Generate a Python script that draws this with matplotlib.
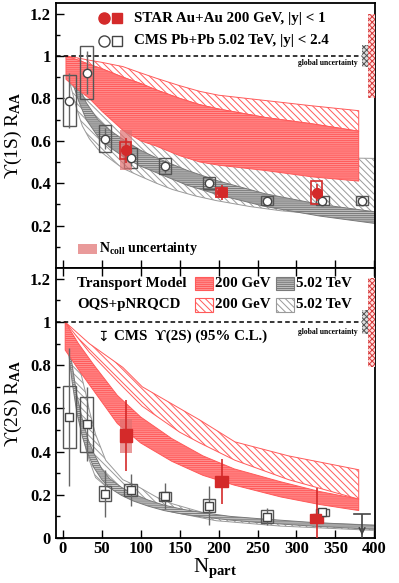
import matplotlib
matplotlib.use('Agg')
import matplotlib.pyplot as plt
from matplotlib.patches import Rectangle
import matplotlib.ticker as ticker

plt.rcParams['font.family'] = ['Liberation Serif', 'DejaVu Serif']
plt.rcParams['font.weight'] = 'bold'
plt.rcParams['mathtext.fontset'] = 'custom'
plt.rcParams['mathtext.rm'] = 'Liberation Serif:bold'
plt.rcParams['mathtext.it'] = 'Liberation Serif:bold'
plt.rcParams['mathtext.bf'] = 'Liberation Serif:bold'
plt.rcParams['hatch.linewidth'] = 0.7

# ---- data: CMS Pb+Pb 5.02 TeV ----
cms_npart = [8.5, 30.6, 53.9, 86.9, 130.9, 187.9, 262.3, 333.3, 384.3]
cms1s = [0.79, 0.922, 0.61, 0.52, 0.48, 0.40, 0.318, 0.318, 0.318]
cms1s_stat = [0.13, 0.10, 0.05, 0.04, 0.03, 0.02, 0.015, 0.015, 0.015]
cms1s_sys = [0.12, 0.124, 0.064, 0.047, 0.037, 0.028, 0.022, 0.022, 0.022]

cms2s_npart = [8.5, 30.6, 53.9, 86.9, 130.9, 187.9, 262.3, 333.3]
cms2s = [0.561, 0.527, 0.205, 0.223, 0.193, 0.15, 0.099, 0.119]
cms2s_stat = [0.32, 0.17, 0.11, 0.075, 0.06, 0.09, 0.04, 0.02]
cms2s_sys = [0.145, 0.128, 0.035, 0.027, 0.02, 0.03, 0.03, 0.017]
cms2s_limit_npart = 384.3
cms2s_limit = 0.11

# ---- data: STAR Au+Au 200 GeV ----
star_npart = [81, 204, 326]
star1s = [0.555, 0.357, 0.355]
star1s_stat = [0.06, 0.035, 0.04]
star1s_sys = [0.04, 0.02, 0.055]
star1s_ncoll = [0.095, 0.025, 0.01]
star2s = [0.473, 0.262, 0.091]
star2s_stat = [0.165, 0.106, 0.142]
star2s_sys = [0.03, 0.025, 0.022]
star2s_ncoll = [0.08, 0.02, 0.01]

# ---- model bands, 1S ----
tm200_1s_x = [4, 20, 34, 50, 77, 100, 120, 150, 176, 200, 260, 320, 380]
tm200_1s_hi = [1.0, 0.98, 0.96, 0.94, 0.90, 0.87, 0.84, 0.80, 0.77, 0.75, 0.71, 0.68, 0.645]
tm200_1s_lo = [0.89, 0.84, 0.80, 0.74, 0.65, 0.60, 0.575, 0.53, 0.50, 0.485, 0.46, 0.43, 0.41]
oqs200_1s_hi = [1.0, 0.99, 0.98, 0.97, 0.95, 0.92, 0.895, 0.86, 0.833, 0.815, 0.79, 0.765, 0.742]

tm502_1s_x = [4, 12, 20, 30, 45, 60, 80, 100, 120, 160, 200, 260, 330, 401]
tm502_1s_hi = [1.0, 0.93, 0.86, 0.78, 0.70, 0.65, 0.60, 0.555, 0.52, 0.46, 0.41, 0.35, 0.30, 0.265]
tm502_1s_lo = [1.0, 0.88, 0.79, 0.70, 0.62, 0.57, 0.52, 0.48, 0.45, 0.39, 0.345, 0.29, 0.245, 0.21]

oqs502_1s_x = [4, 10, 17, 25, 34, 45, 55, 77, 98, 120, 141, 170, 197, 240, 280, 340, 401]
oqs502_1s_hi = [1.0, 0.98, 0.95, 0.90, 0.85, 0.79, 0.75, 0.68, 0.63, 0.60, 0.58, 0.555, 0.54, 0.53, 0.525, 0.52, 0.517]
oqs502_1s_lo = [1.0, 0.86, 0.76, 0.67, 0.61, 0.56, 0.53, 0.47, 0.435, 0.40, 0.37, 0.34, 0.318, 0.29, 0.27, 0.25, 0.232]

# ---- model bands, 2S ----
tm200_2s_x = [3, 20, 40, 70, 100, 140, 180, 220, 280, 330, 380]
tm200_2s_hi = [1.0, 0.90, 0.80, 0.66, 0.56, 0.46, 0.38, 0.32, 0.26, 0.215, 0.18]
tm200_2s_lo = [0.87, 0.78, 0.68, 0.53, 0.44, 0.355, 0.29, 0.245, 0.19, 0.155, 0.127]

oqs200_2s_x = [3, 34, 77, 102, 150, 176, 221, 290, 380]
oqs200_2s_hi = [1.0, 0.90, 0.79, 0.70, 0.60, 0.546, 0.445, 0.38, 0.316]
oqs200_2s_lo = [1.0, 0.86, 0.70, 0.61, 0.49, 0.44, 0.36, 0.27, 0.18]

tm502_2s_x = [3, 8, 12, 18, 25, 32, 40, 50, 60, 75, 90, 110, 130, 155, 180, 215, 250, 320, 401]
tm502_2s_hi = [1.0, 0.90, 0.80, 0.66, 0.55, 0.46, 0.39, 0.32, 0.275, 0.235, 0.205, 0.175, 0.152, 0.132, 0.117, 0.10, 0.09, 0.072, 0.058]
tm502_2s_lo = [1.0, 0.84, 0.72, 0.58, 0.47, 0.39, 0.325, 0.27, 0.232, 0.198, 0.172, 0.147, 0.127, 0.11, 0.097, 0.083, 0.072, 0.055, 0.04]

oqs502_2s_x = [3, 12, 17, 24, 30, 34, 42, 55, 77, 98, 120, 141, 197, 280, 401]
oqs502_2s_hi = [1.0, 0.92, 0.86, 0.75, 0.66, 0.59, 0.48, 0.36, 0.27, 0.235, 0.19, 0.158, 0.10, 0.075, 0.06]
oqs502_2s_lo = [1.0, 0.78, 0.64, 0.50, 0.405, 0.36, 0.28, 0.24, 0.205, 0.17, 0.142, 0.12, 0.08, 0.055, 0.035]

# global uncertainties: (low, high)
glob_star_1s = (0.80, 1.20)
glob_cms_1s = (0.95, 1.05)
glob_star_2s = (0.793, 1.205)
glob_cms_2s = (0.944, 1.054)

RED = '#ff5a5a'
DRED = '#d42a2a'
PINK = '#e07070'
REDFACE = '#ff9090'
GRAY = '#7a7a7a'
LGRAY = '#9a9a9a'
FS = 10.8

fig = plt.figure(figsize=(3.99, 5.83), dpi=100)
ax1 = fig.add_axes([0.140, 0.5403, 0.800, 0.4546])
ax2 = fig.add_axes([0.140, 0.0772, 0.800, 0.4631])


def band_dense(ax, x, lo, hi, col, face):
    ax.fill_between(x, lo, hi, facecolor=face, edgecolor=col, hatch='--------',
                    linewidth=0.7, zorder=2)


def band_diag(ax, x, lo, hi, col):
    ax.fill_between(x, lo, hi, facecolor='none', edgecolor=col, hatch='\\\\\\\\\\',
                    linewidth=0.7, zorder=2)


def boxes(ax, xs, ys, halfs, w, **kw):
    for x, y, h in zip(xs, ys, halfs):
        ax.add_patch(Rectangle((x - w / 2, y - h), w, 2 * h, **kw))


def globbox(ax, star, cms):
    ax.add_patch(Rectangle((391.5, star[0]), 10, star[1] - star[0], facecolor='#ffdede',
                           edgecolor='#d63a3a', hatch='xxxxxx', linewidth=0, zorder=3))
    ax.add_patch(Rectangle((384, cms[0]), 7.5, cms[1] - cms[0], facecolor='#dddddd',
                           edgecolor='#555555', hatch='xxxxxx', linewidth=0, zorder=3))


# ---------------- top panel: 1S ----------------
band_diag(ax1, oqs502_1s_x, oqs502_1s_lo, oqs502_1s_hi, LGRAY)
band_dense(ax1, tm502_1s_x, tm502_1s_lo, tm502_1s_hi, GRAY, '#bdbdbd')
band_diag(ax1, tm200_1s_x, tm200_1s_hi, oqs200_1s_hi, RED)
band_dense(ax1, tm200_1s_x, tm200_1s_lo, tm200_1s_hi, RED, REDFACE)

boxes(ax1, cms_npart, cms1s, cms1s_sys, 16, facecolor='none', edgecolor='#555555', lw=1, zorder=4)
ax1.errorbar(cms_npart, cms1s, yerr=cms1s_stat, fmt='o', mfc='white', mec='#444444',
             ms=6, mew=1, ecolor='#666666', elinewidth=1, capsize=0, zorder=5)

boxes(ax1, star_npart, star1s, star1s_ncoll, 16, facecolor=PINK, alpha=0.7, lw=0, zorder=4)
boxes(ax1, star_npart, star1s, star1s_sys, 14, facecolor='none', edgecolor=DRED, lw=1.2, zorder=5)
ax1.errorbar(star_npart, star1s, yerr=star1s_stat, fmt='o', color=DRED, ms=7,
             elinewidth=1.2, capsize=0, zorder=6)

ax1.axhline(1.0, color='black', ls=(0, (3, 2)), lw=1.1, zorder=3)
globbox(ax1, glob_star_1s, glob_cms_1s)
ax1.text(379, 0.967, 'global uncertainty', fontsize=5.5, ha='right', va='center')

# legend top
ax1.plot([52.7], [1.178], 'o', color=DRED, ms=8)
ax1.plot([69.5], [1.178], 's', color=DRED, ms=7.5)
ax1.plot([52.7], [1.072], 'o', mfc='white', mec='#444444', ms=8, mew=1)
ax1.plot([69.5], [1.072], 's', mfc='white', mec='#444444', ms=7.5, mew=1)
ax1.text(92, 1.178, 'STAR Au+Au 200 GeV, |y| < 1', fontsize=FS, va='center')
ax1.text(92, 1.072, 'CMS Pb+Pb 5.02 TeV, |y| < 2.4', fontsize=FS, va='center')
ax1.add_patch(Rectangle((19.5, 0.068), 24, 0.047, facecolor=PINK, alpha=0.7, lw=0))
ax1.text(46, 0.09, r'N$_{\mathrm{coll}}$ uncertainty', fontsize=10, va='center')

# ---------------- bottom panel: 2S ----------------
band_diag(ax2, oqs502_2s_x, oqs502_2s_lo, oqs502_2s_hi, LGRAY)
band_dense(ax2, tm502_2s_x, tm502_2s_lo, tm502_2s_hi, GRAY, '#cccccc')
band_diag(ax2, oqs200_2s_x, oqs200_2s_lo, oqs200_2s_hi, RED)
band_dense(ax2, tm200_2s_x, tm200_2s_lo, tm200_2s_hi, RED, REDFACE)

boxes(ax2, cms2s_npart, cms2s, cms2s_sys, 16, facecolor='none', edgecolor='#555555', lw=1, zorder=4)
ax2.errorbar(cms2s_npart, cms2s, yerr=cms2s_stat, fmt='s', mfc='white', mec='#444444',
             ms=6, mew=1, ecolor='#666666', elinewidth=1, capsize=0, zorder=5)
ax2.errorbar([cms2s_limit_npart], [cms2s_limit], yerr=[[cms2s_limit], [0]], fmt='none',
             ecolor='#444444', elinewidth=1.2, capsize=0, zorder=5)
ax2.plot([cms2s_limit_npart - 10, cms2s_limit_npart + 10], [cms2s_limit, cms2s_limit],
         color='#444444', lw=1.2, zorder=5)
ax2.annotate('', xy=(cms2s_limit_npart, 0.0), xytext=(cms2s_limit_npart, 0.04),
             arrowprops=dict(arrowstyle='->', color='#444444', lw=1.2), zorder=5)

boxes(ax2, star_npart, star2s, star2s_ncoll, 16, facecolor=PINK, alpha=0.7, lw=0, zorder=4)
boxes(ax2, star_npart, star2s, star2s_sys, 16, facecolor=DRED, edgecolor=DRED, lw=1, zorder=5)
ax2.errorbar(star_npart, star2s, yerr=star2s_stat, fmt='s', color=DRED, ms=6,
             elinewidth=1.2, capsize=0, zorder=6)

ax2.axhline(1.0, color='black', ls=(0, (3, 2)), lw=1.1, zorder=3)
globbox(ax2, glob_star_2s, glob_cms_2s)
ax2.text(379, 0.956, 'global uncertainty', fontsize=5.5, ha='right', va='center')

# legend bottom
ax2.text(18, 1.178, 'Transport Model', fontsize=FS, va='center')
ax2.text(18, 1.08, 'OQS+pNRQCD', fontsize=FS, va='center')
ax2.add_patch(Rectangle((170, 1.146), 23, 0.064, facecolor=REDFACE, edgecolor=RED,
                        hatch='--------', lw=0.8))
ax2.add_patch(Rectangle((170, 1.048), 23, 0.064, facecolor='none', edgecolor=RED,
                        hatch='\\\\\\\\\\', lw=0.8))
ax2.add_patch(Rectangle((274, 1.146), 23, 0.064, facecolor='#bdbdbd', edgecolor=GRAY,
                        hatch='--------', lw=0.8))
ax2.add_patch(Rectangle((274, 1.048), 23, 0.064, facecolor='none', edgecolor=LGRAY,
                        hatch='\\\\\\\\\\', lw=0.8))
ax2.text(196, 1.178, '200 GeV', fontsize=FS, va='center')
ax2.text(196, 1.08, '200 GeV', fontsize=FS, va='center')
ax2.text(300, 1.178, '5.02 TeV', fontsize=FS, va='center')
ax2.text(300, 1.08, '5.02 TeV', fontsize=FS, va='center')
ax2.text(44, 0.933, '\u21a7', fontsize=10, va='center', family='DejaVu Sans', weight='normal')
ax2.text(66, 0.933, 'CMS  \u03d2(2S) (95% C.L.)', fontsize=FS, va='center')

# ---------------- axes cosmetics ----------------
fmt = ticker.FuncFormatter(lambda v, p: '%g' % round(v, 2))
for ax in (ax1, ax2):
    ax.set_xlim(-9, 401)
    ax.set_ylim(0, 1.25)
    ax.xaxis.set_major_locator(ticker.MultipleLocator(50))
    ax.yaxis.set_minor_locator(ticker.MultipleLocator(0.1))
    ax.yaxis.set_major_formatter(fmt)
    ax.tick_params(direction='in', which='both', labelsize=12, right=False)
    ax.tick_params(which='major', length=6, width=1)
    ax.tick_params(which='minor', length=3, width=1)
    for s in ax.spines.values():
        s.set_linewidth(1.3)

ax1.set_yticks([0.2, 0.4, 0.6, 0.8, 1.0, 1.2])
ax1.tick_params(labelbottom=False)
ax2.set_yticks([0, 0.2, 0.4, 0.6, 0.8, 1.0, 1.2])
ax2.tick_params(top=True)
ax2.tick_params(axis='x', pad=2)

ax1.set_ylabel('\u03d2(1S) R$_{\\mathrm{AA}}$', fontsize=14, labelpad=4)
ax2.set_ylabel('\u03d2(2S) R$_{\\mathrm{AA}}$', fontsize=14, labelpad=4)
ax2.set_xlabel('N$_{\\mathrm{part}}$', fontsize=15, labelpad=0)

fig.savefig('out.png', dpi=100)
